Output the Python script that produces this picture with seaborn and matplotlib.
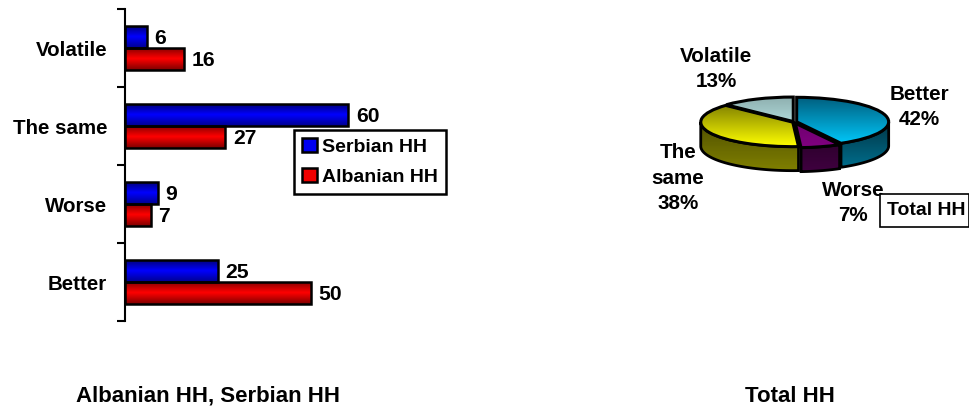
import numpy as np
import pandas as pd
import matplotlib
matplotlib.use("Agg")
import matplotlib.pyplot as plt
from matplotlib.colors import LinearSegmentedColormap as LSC
from matplotlib.patches import Polygon
import seaborn as sns

categories = ["Volatile", "The same", "Worse", "Better"]
serbian = [6, 60, 9, 25]
albanian = [16, 27, 7, 50]
series_names = ["Serbian HH", "Albanian HH"]
pie_categories = ["Better", "Worse", "The same", "Volatile"]
pie_values = [42, 7, 38, 13]
pie_explode = [0.03, 0.05, 0.015, 0.02]

W, H = 969, 408
sns.set_theme(style="white")
plt.rcParams["font.family"] = ["Liberation Sans", "DejaVu Sans"]
plt.rcParams["font.weight"] = "bold"
FS_TITLE = 16
FS_TICK = 14.8
FS_BAR = 15.2
FS_LEG = 14
FS_PIE = 14.9

fig = plt.figure(figsize=(W / 100, H / 100), dpi=100, facecolor="white")


def box(l, t, r, b):
    return [l / W, 1 - b / H, (r - l) / W, (b - t) / H]


def grad(ax, extent, colors, clip, z):
    cm = LSC.from_list("g", colors)
    im = ax.imshow(np.linspace(0, 1, 64).reshape(-1, 1), cmap=cm, extent=extent,
                   origin="upper", aspect="auto", zorder=z, interpolation="bilinear")
    im.set_clip_path(clip)
    return im


# ---------- bar chart ----------
ax = fig.add_axes(box(124.5, 9, 424.5, 321))
df = pd.DataFrame({
    "category": categories * 2,
    "value": serbian + albanian,
    "series": [series_names[0]] * 4 + [series_names[1]] * 4,
})
sns.barplot(data=df, y="category", x="value", hue="series", order=categories,
            hue_order=series_names, palette=["#0000f0", "#f00000"], orient="y",
            width=0.57, gap=0, saturation=1, edgecolor="black", linewidth=1.8, ax=ax)
XMAX = 80.4
ax.set_xlim(0, XMAX)
ax.set_ylim(3.5, -0.5)
sns.move_legend(ax, "upper left", bbox_to_anchor=(294 / W, 1 - 130 / H),
                bbox_transform=fig.transFigure, title=None, frameon=True, fontsize=FS_LEG,
                fancybox=False, edgecolor="black", framealpha=1, borderaxespad=0,
                handlelength=0.75, handleheight=0.75, handletextpad=0.28,
                labelspacing=0.62, borderpad=0.42, labelcolor="black")
ax.get_legend().get_frame().set_linewidth(1.8)
ax.get_legend().set_zorder(10)

grads = [["#000070", "#0000ff", "#000090"], ["#800000", "#ff0000", "#800000"]]
for cont, cols in zip(ax.containers, grads):
    for p in cont:
        x0, y0, w, h = p.get_x(), p.get_y(), p.get_width(), p.get_height()
        grad(ax, (x0, x0 + w, y0 + h, y0), cols, p, 1.5)
        p.set_facecolor("none")
        p.set_zorder(2)
    for t in ax.bar_label(cont, padding=5.5, fontsize=FS_BAR, fontweight="bold", color="black"):
        t.xyann = (t.xyann[0], t.xyann[1] - 1.0)
ax.set_xlim(0, XMAX)
ax.set_ylim(3.5, -0.5)

for s in ["top", "right", "bottom"]:
    ax.spines[s].set_visible(False)
ax.spines["left"].set_color("black")
ax.spines["left"].set_linewidth(1.5)
ax.set_xlabel("")
ax.set_ylabel("")
ax.set_xticks([])
ax.set_yticks(np.arange(-0.5, 4, 1))
ax.set_yticklabels([])
ax.tick_params(axis="y", which="major", left=True, length=5.5, width=1.5, color="black")
ax.set_yticks(range(4), labels=categories, minor=True)
ax.tick_params(axis="y", which="minor", left=False, length=0, pad=12.5, labelsize=FS_TICK,
               labelcolor="black")
for t in ax.get_yticklabels(minor=True):
    t.set_fontweight("bold")

# ---------- pseudo-3D pie ----------
CX, CY, RX, RY, DEPTH = 794.0, 122.0, 92.0, 24.5, 24.0
L, T, R, B = 680, 85, 910, 190
ax2 = fig.add_axes(box(L, T, R, B))
top_cols = [["#005f7f", "#00ccff"], ["#600060", "#800080"],
            ["#707000", "#ffff00"], ["#8fb0b0", "#ccffff"]]
side_cols = [["#003545", "#00708f"], ["#200020", "#400040"],
             ["#505000", "#808000"], ["#607070", "#a0c0c0"]]
wedges, _ = ax2.pie(pie_values, explode=pie_explode, startangle=90, counterclock=False,
                    radius=1, wedgeprops=dict(edgecolor="black", linewidth=2.2))
ax2.set_aspect("auto")
ax2.set_xlim((L - CX) / RX, (R - CX) / RX)
ax2.set_ylim((CY - B) / RY, (CY - T) / RY)
d = DEPTH / RY
for wd, tc, sc in zip(wedges, top_cols, side_cols):
    cx, cy = wd.center
    ang = np.radians(np.linspace(wd.theta1, wd.theta2, 200))
    ang = ang[np.sin(ang) <= 0.0]
    if len(ang):
        xs = cx + np.cos(ang)
        ys = cy + np.sin(ang)
        pts = np.r_[np.c_[xs, ys], np.c_[xs, ys - d][::-1]]
        poly = Polygon(pts, closed=True, facecolor="none", edgecolor="black",
                       linewidth=2.0, zorder=1.5)
        ax2.add_patch(poly)
        grad(ax2, (-1.2, 1.2, cy - 1 - d, cy), sc, poly, 1.2)
    grad(ax2, (-1.2, 1.2, cy - 1, cy + 1), tc, wd, 2)
    wd.set_facecolor("none")
    wd.set_zorder(3)
ax2.set_xlim((L - CX) / RX, (R - CX) / RX)
ax2.set_ylim((CY - B) / RY, (CY - T) / RY)
ax2.axis("off")


def label(x, y, s, size=FS_PIE, spacing=1.45):
    fig.text(x / W, 1 - y / H, s, ha="center", va="center", fontsize=size,
             fontweight="bold", color="black", linespacing=spacing)


def pct(name):
    return f"{pie_values[pie_categories.index(name)]}%"


label(716, 69, f"Volatile\n{pct('Volatile')}")
label(919, 107, f"Better\n{pct('Better')}")
label(678, 178, f"The\nsame\n{pct('The same')}")
label(853, 203, f"Worse\n{pct('Worse')}")
label(208, 396, ", ".join(series_names[::-1]), FS_TITLE)
label(790, 396, "Total HH", FS_TITLE)

# Total HH box
fig.patches.append(plt.Rectangle((880 / W, 1 - 227 / H), 89 / W, 33 / H,
                                 transform=fig.transFigure, facecolor="white",
                                 edgecolor="black", linewidth=1.2, zorder=5))
fig.text(926.5 / W, 1 - 210.5 / H, "Total HH", ha="center", va="center", fontsize=FS_LEG,
         fontweight="bold", color="black", zorder=6)

fig.savefig("out.png", dpi=100)
